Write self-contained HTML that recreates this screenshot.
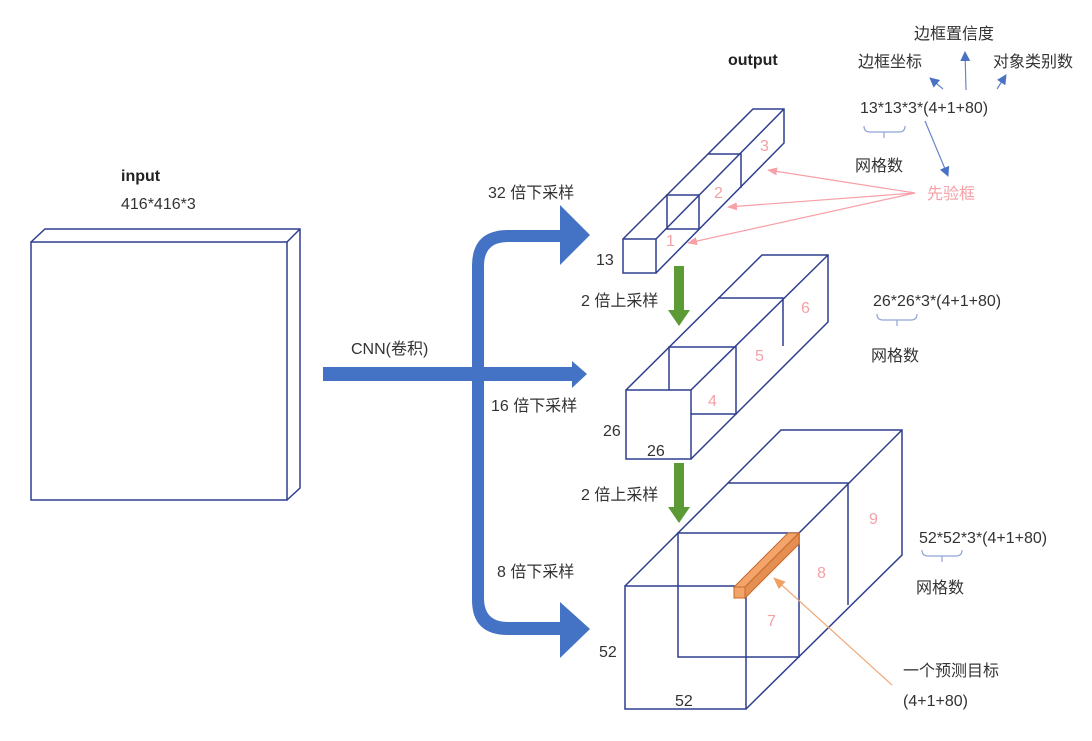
<!DOCTYPE html>
<html><head><meta charset="utf-8"><style>
html,body{margin:0;padding:0;background:#fff;}
svg{display:block;}
text{font-family:"Liberation Sans","Noto Sans CJK SC",sans-serif;font-size:16px;fill:#333;}
.p{fill:#f4a0a6;}
</style></head><body>
<svg width="1092" height="741" viewBox="0 0 1092 741" xmlns="http://www.w3.org/2000/svg">
<defs>
<marker id="pa" markerWidth="10" markerHeight="8" refX="9" refY="4" orient="auto" markerUnits="userSpaceOnUse"><path d="M0,0 L10,4 L0,8 Z" fill="#f7a0a8"/></marker>
<marker id="ba" markerWidth="10" markerHeight="10" refX="9" refY="5" orient="auto" markerUnits="userSpaceOnUse"><path d="M0,0 L10,5 L0,10 Z" fill="#4a72c4"/></marker>
<marker id="oa" markerWidth="12" markerHeight="10" refX="11" refY="5" orient="auto" markerUnits="userSpaceOnUse"><path d="M0,0 L12,5 L0,10 Z" fill="#f0a060"/></marker>
</defs>
<g fill="none" stroke="#2f3f8f" stroke-width="1.5">
<!-- input -->
<rect x="31" y="242" width="256" height="258"/>
<path d="M31,242 L45,229 L300,229 L300,488 L287,500 M287,242 L300,229"/>
<!-- top box -->
<rect x="623" y="239" width="33" height="34"/>
<path d="M623,239 L753,109 L784,109 L784,143 L656,273 M656,239 L784,109"/>
<path d="M667,229 L667,195 L699,195 L699,229 Z"/>
<path d="M708,154 L741,154 L741,188"/>
<!-- middle box -->
<rect x="626" y="390" width="65" height="69"/>
<path d="M626,390 L762,255 L828,255 L828,322 L691,459 M691,390 L828,255"/>
<path d="M669,390 L669,347 L736,347 L736,414 L691,414"/>
<path d="M718,298 L783,298 L783,346"/>
<!-- bottom box -->
<rect x="625" y="586" width="121" height="123"/>
<path d="M625,586 L781,430 L902,430 L902,555 L746,709 M746,586 L902,430"/>
<path d="M678,586 L678,533 L799,533 L799,657 L678,657 L678,586"/>
<path d="M728,483 L848,483 L848,605"/>
</g>
<!-- orange bar -->
<g stroke="#c86a2a" stroke-width="1" fill="#f2a46a">
<polygon points="734,587 788,533 799,533 745,587"/>
<polygon points="745,587 799,533 799,544 745,598" fill="#e58f52"/>
<rect x="734" y="587" width="11" height="11"/>
</g>
<!-- blue arrows -->
<g fill="#4472c4">
<rect x="323" y="367" width="250" height="14"/>
<polygon points="572,361 587,374 572,388"/>
<path d="M472,622 L472,266 Q472,230 508,230 L560,230 L560,205 L590,235 L560,265 L560,242 L508,242 Q484,242 484,266 L484,598 Q484,622 508,622 L560,622 L560,602 L590,629 L560,658 L560,635 L508,635 Q472,635 472,600 Z"/>
</g>
<!-- green arrows -->
<g fill="#5b9a35">
<rect x="674" y="266" width="10" height="45"/><polygon points="668,310 690,310 679,326"/>
<rect x="674" y="463" width="10" height="45"/><polygon points="668,507 690,507 679,523"/>
</g>
<!-- pink arrows -->
<g stroke="#f7a0a8" stroke-width="1.2" fill="none">
<line x1="915" y1="193" x2="768" y2="170" marker-end="url(#pa)"/>
<line x1="915" y1="193" x2="728" y2="207" marker-end="url(#pa)"/>
<line x1="915" y1="193" x2="688" y2="243" marker-end="url(#pa)"/>
</g>
<!-- blue thin arrows -->
<g stroke="#6a86c8" stroke-width="1.2" fill="none">
<line x1="943" y1="89" x2="930" y2="78" marker-end="url(#ba)"/>
<line x1="966" y1="90" x2="965" y2="52" marker-end="url(#ba)"/>
<line x1="997" y1="89" x2="1006" y2="75" marker-end="url(#ba)"/>
<line x1="925" y1="121" x2="948" y2="176" marker-end="url(#ba)"/>
</g>
<line x1="892" y1="685" x2="774" y2="578" stroke="#f0a878" stroke-width="1.2" marker-end="url(#oa)"/>
<!-- brackets -->
<g stroke="#8fa3d6" stroke-width="1.2" fill="none">
<path d="M864,126 Q864,132 870,132 L899,132 Q905,132 905,126 M884,132 L884,138"/>
<path d="M877,314 Q877,320 883,320 L911,320 Q917,320 917,314 M897,320 L897,326"/>
<path d="M922,550 Q922,556 928,556 L956,556 Q962,556 962,550 M942,556 L942,562"/>
</g>
<!-- text -->
<text x="121" y="181" style="font-weight:bold;fill:#222">input</text>
<text x="121" y="209">416*416*3</text>
<text x="728" y="65" style="font-weight:bold;fill:#222">output</text>
<text x="351" y="354">CNN(卷积)</text>
<text x="488" y="198">32 倍下采样</text>
<text x="491" y="411">16 倍下采样</text>
<text x="497" y="577">8 倍下采样</text>
<text x="581" y="306">2 倍上采样</text>
<text x="581" y="500">2 倍上采样</text>
<text x="596" y="265">13</text>
<text x="603" y="436">26</text>
<text x="647" y="456">26</text>
<text x="599" y="657">52</text>
<text x="675" y="706">52</text>
<text class="p" x="666" y="246">1</text>
<text class="p" x="714" y="198">2</text>
<text class="p" x="760" y="151">3</text>
<text class="p" x="708" y="406">4</text>
<text class="p" x="755" y="361">5</text>
<text class="p" x="801" y="313">6</text>
<text class="p" x="767" y="626">7</text>
<text class="p" x="817" y="578">8</text>
<text class="p" x="869" y="524">9</text>
<text x="914" y="39">边框置信度</text>
<text x="858" y="67">边框坐标</text>
<text x="993" y="67">对象类别数</text>
<text x="860" y="113">13*13*3*(4+1+80)</text>
<text x="855" y="171">网格数</text>
<text class="p" x="927" y="199">先验框</text>
<text x="873" y="306">26*26*3*(4+1+80)</text>
<text x="871" y="361">网格数</text>
<text x="919" y="543">52*52*3*(4+1+80)</text>
<text x="916" y="593">网格数</text>
<text x="903" y="676">一个预测目标</text>
<text x="903" y="706">(4+1+80)</text>
</svg>
</body></html>
